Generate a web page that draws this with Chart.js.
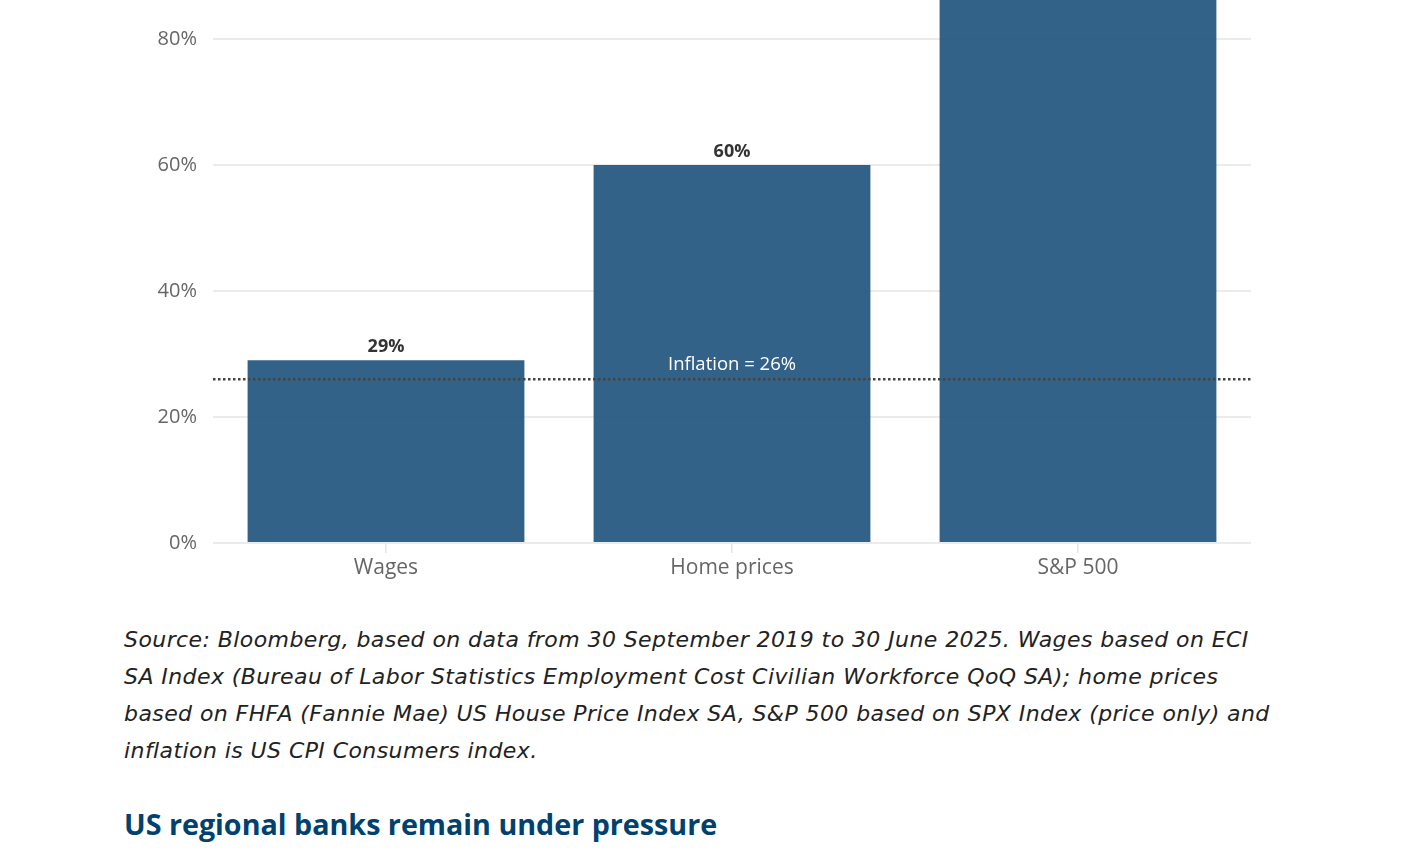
<!DOCTYPE html>
<html>
<head>
<meta charset="utf-8">
<script src="https://cdn.jsdelivr.net/npm/chart.js@4"></script>
<style>
  body { margin: 0; background: #fff; width: 1401px; height: 854px; overflow: hidden; position: relative; }
  #wrap { position: absolute; left: 0; top: 0; width: 1401px; height: 600px; }
  .caption { position: absolute; left: 124px; top: 621px; font-family: "DejaVu Sans", sans-serif; font-style: italic; font-size: 22px; letter-spacing: 0.42px; line-height: 37px; color: #222; white-space: nowrap; }
  .next { position: absolute; left: 124px; top: 804px; font-family: "Open Sans", sans-serif; font-weight: 700; font-size: 28.7px; color: #00416e; white-space: nowrap; }
</style>
</head>
<body>
<div id="wrap"><canvas id="growthChart" width="1401" height="600"></canvas></div>
<div class="caption">Source: Bloomberg, based on data from 30 September 2019 to 30 June 2025. Wages based on ECI<br>SA Index (Bureau of Labor Statistics Employment Cost Civilian Workforce QoQ SA); home prices<br>based on FHFA (Fannie Mae) US House Price Index SA, S&amp;P 500 based on SPX Index (price only) and<br>inflation is US CPI Consumers index.</div>
<div class="next">US regional banks remain under pressure</div>
<script>
const categories = ["Wages", "Home prices", "S&P 500"];
const growth = [29, 60, 108];
const inflation = [26];
const yTicks = [0, 20, 40, 60, 80];

// value labels on top of bars (S&P one is off the top of the crop)
const barLabels = {
  id: "barLabels",
  afterDatasetsDraw(chart) {
    const ctx = chart.ctx;
    const meta = chart.getDatasetMeta(0);
    const area = chart.chartArea;
    ctx.save();
    ctx.font = "bold 18px 'Open Sans', sans-serif";
    ctx.fillStyle = "#333";
    ctx.textAlign = "center";
    ctx.textBaseline = "bottom";
    meta.data.forEach((bar, i) => {
      const y = bar.y - 4;
      if (y > area.top) ctx.fillText(growth[i] + "%", bar.x, y);
    });

    // inflation reference line
    const yPos = chart.scales.y.getPixelForValue(inflation[0]);
    ctx.strokeStyle = "#444";
    ctx.lineWidth = 2.5;
    ctx.setLineDash([2.5, 2.5]);
    ctx.beginPath();
    ctx.moveTo(area.left, yPos);
    ctx.lineTo(area.right, yPos);
    ctx.stroke();
    ctx.setLineDash([]);
    ctx.font = "18.5px 'Open Sans', sans-serif";
    ctx.fillStyle = "#fff";
    ctx.textBaseline = "middle";
    ctx.fillText("Inflation = " + inflation[0] + "%", chart.scales.x.getPixelForValue(1), yPos - 14);
    ctx.restore();
  }
};

new Chart(document.getElementById("growthChart").getContext("2d"), {
  type: "bar",
  data: {
    labels: categories,
    datasets: [{
      data: growth,
      backgroundColor: "rgba(34, 85, 126, 0.92)",
      borderWidth: 0,
      barPercentage: 0.8,
      categoryPercentage: 1.0
    }]
  },
  options: {
    responsive: false,
    animation: false,
    layout: { padding: { left: 0, right: 150, top: 0, bottom: 0 } },
    plugins: { legend: { display: false }, tooltip: { enabled: false } },
    scales: {
      x: {
        grid: { drawOnChartArea: false, offset: false, color: "#e4e4e4", tickLength: 10, lineWidth: 1.5 },
        border: { display: false },
        ticks: { color: "#666", font: { family: "'Open Sans', sans-serif", size: 21 }, padding: 2 },
        afterFit(scale) { scale.height = 57; scale.paddingLeft = 0; scale.paddingRight = 0; }
      },
      y: {
        min: 0,
        max: 86.2,
        afterBuildTicks(scale) { scale.ticks = yTicks.map(v => ({ value: v })); },
        grid: { color: "#ebebeb", lineWidth: 2, drawTicks: false },
        border: { display: false },
        ticks: {
          color: "#666",
          padding: 16,
          font: { family: "'Open Sans', sans-serif", size: 20 },
          callback: v => v + "%"
        },
        afterFit(scale) { scale.width = 213; scale.paddingTop = 0; scale.paddingBottom = 0; }
      }
    }
  },
  plugins: [barLabels]
});
</script>
</body>
</html>
